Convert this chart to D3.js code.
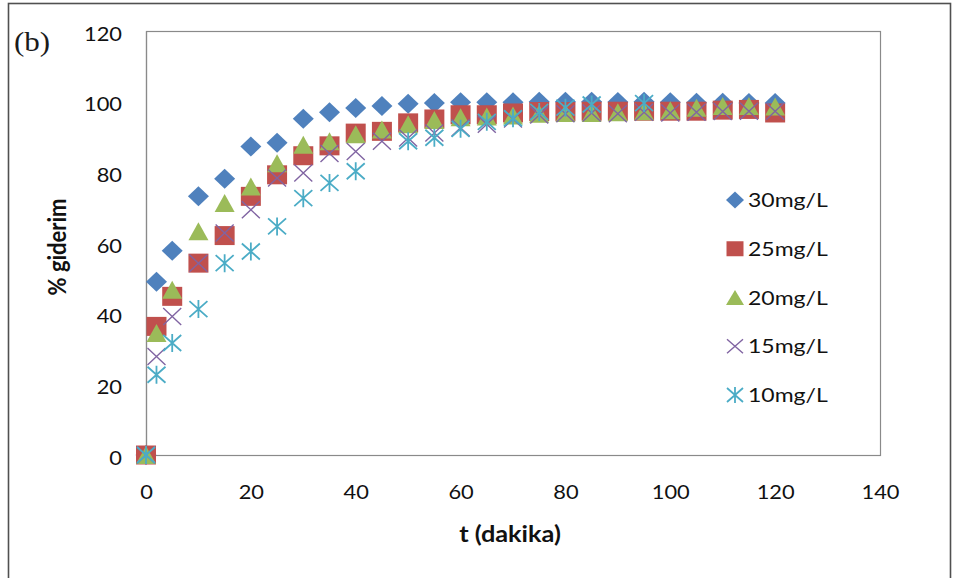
<!DOCTYPE html>
<html>
<head>
<meta charset="utf-8">
<script src="https://cdn.jsdelivr.net/npm/d3@7"></script>
<style>
  body { margin: 0; background: #fff; }
  svg { display: block; }
</style>
</head>
<body>
<svg id="chart" width="959" height="578"></svg>
<script>
// Contact time (minutes)
const times = [0, 2, 5, 10, 15, 20, 25, 30, 35, 40, 45, 50, 55, 60, 65, 70, 75, 80, 85, 90, 95, 100, 105, 110, 115, 120];

// % removal for each initial concentration (null = no measurement)
const removal30 = [0, 49.0, 57.8, 73.2, 78.2, 87.3, 88.4, 95.2, 97.0, 98.2, 98.8, 99.4, 99.6, 99.8, 99.8, 99.8, 100, 100, 100, 99.9, 100, 99.8, 99.7, 99.7, 99.6, 99.6];
const removal25 = [0, 36.4, 44.9, 54.3, 62.1, 73.2, 79.3, 84.7, 87.5, 91.1, 91.6, 94.0, 95.1, 96.3, 96.3, 96.8, 97.2, 97.2, 97.3, 97.3, 97.3, 97.3, 97.3, 97.6, 97.8, 96.8];
const removal20 = [0, 34.5, 46.8, 63.3, 71.3, 76.0, 82.6, 87.8, 88.8, 90.8, 92.1, 93.6, 94.8, 95.6, 95.8, 96.1, 96.6, 96.8, 96.8, 97.0, 97.3, 97.6, 98.3, 98.8, 98.8, 98.6];
const removal15 = [0, 27.9, 39.2, 54.3, 62.8, 69.4, 78.4, 79.8, 85.3, 85.9, 88.8, 89.7, 91.1, 92.6, 93.6, 95.1, 96.2, 96.6, 96.8, 96.6, 97.0, 96.8, 97.0, 97.2, 97.3, 97.3];
const removal10 = [0, 22.7, 31.7, 41.3, 54.3, 57.6, 64.7, 72.7, 77.0, 80.3, null, 88.8, 89.8, 92.3, 94.3, 95.3, 97.1, 98.3, 99.2, null, 99.6, null, null, null, null, null];

const seriesNames = ["30mg/L", "25mg/L", "20mg/L", "15mg/L", "10mg/L"];
const seriesValues = [removal30, removal25, removal20, removal15, removal10];
const seriesShapes = ["diamond", "square", "triangle", "cross", "star"];
const seriesColors = ["#4F81BD", "#C0504D", "#9BBB59", "#8064A2", "#4BACC6"];

const xTicks = [0, 20, 40, 60, 80, 100, 120, 140];
const yTicks = [0, 20, 40, 60, 80, 100, 120];

const panelLabel = "(b)";
const xTitle = "t (dakika)";
const yTitle = "% giderim";

// ---- layout ----
const svg = d3.select("#chart");
const plot = { left: 146, top: 31, right: 880, bottom: 455 };
const widen = 1.15;            // glyphs in this figure are set slightly wide
const textFont = "Lato, 'Open Sans', sans-serif";

const x = d3.scaleLinear().domain([0, 140]).range([plot.left, plot.right]);
const y = d3.scaleLinear().domain([0, 120]).range([plot.bottom, plot.top]);

// outer chart border
svg.append("rect")
  .attr("x", 8.5).attr("y", 3.5)
  .attr("width", 942).attr("height", 620)
  .attr("fill", "#fff")
  .attr("stroke", "#505050")
  .attr("stroke-width", 1.6);

// plot area frame
svg.append("rect")
  .attr("x", plot.left + 0.5).attr("y", plot.top + 0.5)
  .attr("width", plot.right - plot.left).attr("height", plot.bottom - plot.top)
  .attr("fill", "#fff")
  .attr("stroke", "#8a8a8a")
  .attr("stroke-width", 1.2);

// axes
const xAxis = svg.append("g")
  .attr("transform", `translate(0,${plot.bottom})`)
  .call(d3.axisBottom(x).tickValues(xTicks).tickSize(0));
const yAxis = svg.append("g")
  .attr("transform", `translate(${plot.left},0)`)
  .call(d3.axisLeft(y).tickValues(yTicks).tickSize(0));

[xAxis, yAxis].forEach(g => {
  g.select(".domain").attr("stroke", "#8a8a8a").attr("stroke-width", 1.2);
  g.selectAll("text")
    .attr("font-family", textFont)
    .attr("font-size", 19)
    .attr("fill", "#111");
});

xAxis.selectAll(".tick text")
  .attr("y", 0).attr("dy", null)
  .attr("text-anchor", "middle")
  .attr("transform", `translate(0,44) scale(${widen},1)`);

yAxis.selectAll(".tick text")
  .attr("x", 0).attr("dy", null)
  .attr("text-anchor", "end")
  .attr("transform", `translate(-24,9) scale(${widen},1)`);

// axis titles
svg.append("text")
  .attr("transform", `translate(510,542) scale(${widen},1)`)
  .attr("text-anchor", "middle")
  .attr("font-family", textFont)
  .attr("font-weight", "bold")
  .attr("font-size", 22)
  .attr("fill", "#111")
  .text(xTitle);

svg.append("text")
  .attr("transform", `translate(66,247) scale(${widen},1) rotate(-90)`)
  .attr("text-anchor", "middle")
  .attr("font-family", textFont)
  .attr("font-weight", "bold")
  .attr("font-size", 22)
  .attr("fill", "#111")
  .text(yTitle);

// panel label
svg.append("text")
  .attr("transform", `translate(14,51) scale(${widen},1)`)
  .attr("font-family", "'Liberation Serif', 'DejaVu Serif', serif")
  .attr("font-size", 27)
  .attr("fill", "#1a1a1a")
  .text(panelLabel);

// ---- marker shapes ----
function markerPath(shape, w, h) {
  const a = w / 2, b = h / 2;
  switch (shape) {
    case "diamond": return `M0,${-b}L${a},0L0,${b}L${-a},0Z`;
    case "square": return `M${-a},${-b}H${a}V${b}H${-a}Z`;
    case "triangle": return `M0,${-b}L${a},${b}L${-a},${b}Z`;
    case "cross": return `M${-a},${-b}L${a},${b}M${a},${-b}L${-a},${b}`;
    case "star": return `M${-a},${-b}L${a},${b}M${a},${-b}L${-a},${b}M0,${-b - 1}L0,${b + 1}`;
  }
}
const markerSize = {
  diamond: [21, 20], square: [20, 19], triangle: [20, 18], cross: [18, 17], star: [18, 16]
};
const legendSize = {
  diamond: [18, 17], square: [17, 15], triangle: [18, 15], cross: [16, 14], star: [16, 14]
};

function styleMarker(sel, shape, color) {
  if (shape === "cross" || shape === "star") {
    sel.attr("fill", "none")
      .attr("stroke", color)
      .attr("stroke-width", shape === "star" ? 1.8 : 1.4);
  } else {
    sel.attr("fill", color).attr("stroke", "none");
  }
}

// ---- data points ----
seriesValues.forEach((vals, i) => {
  const shape = seriesShapes[i];
  const [w, h] = markerSize[shape];
  const pts = times.map((t, j) => ({ t, v: vals[j] })).filter(d => d.v !== null);
  const g = svg.append("g").attr("class", "series");
  const marks = g.selectAll("path")
    .data(pts)
    .join("path")
    .attr("transform", d => `translate(${x(d.t)},${y(d.v)})`)
    .attr("d", markerPath(shape, w, h));
  styleMarker(marks, shape, seriesColors[i]);
});

// ---- legend ----
const legend = svg.append("g").attr("class", "legend");
seriesNames.forEach((name, i) => {
  const cy = 200 + i * 48.75;
  const shape = seriesShapes[i];
  const [w, h] = legendSize[shape];
  const m = legend.append("path")
    .attr("transform", `translate(735,${cy})`)
    .attr("d", markerPath(shape, w, h));
  styleMarker(m, shape, seriesColors[i]);
  legend.append("text")
    .attr("transform", `translate(748,${cy + 7.2}) scale(${widen},1)`)
    .attr("font-family", textFont)
    .attr("font-size", 20)
    .attr("fill", "#111")
    .text(name);
});
</script>
</body>
</html>
